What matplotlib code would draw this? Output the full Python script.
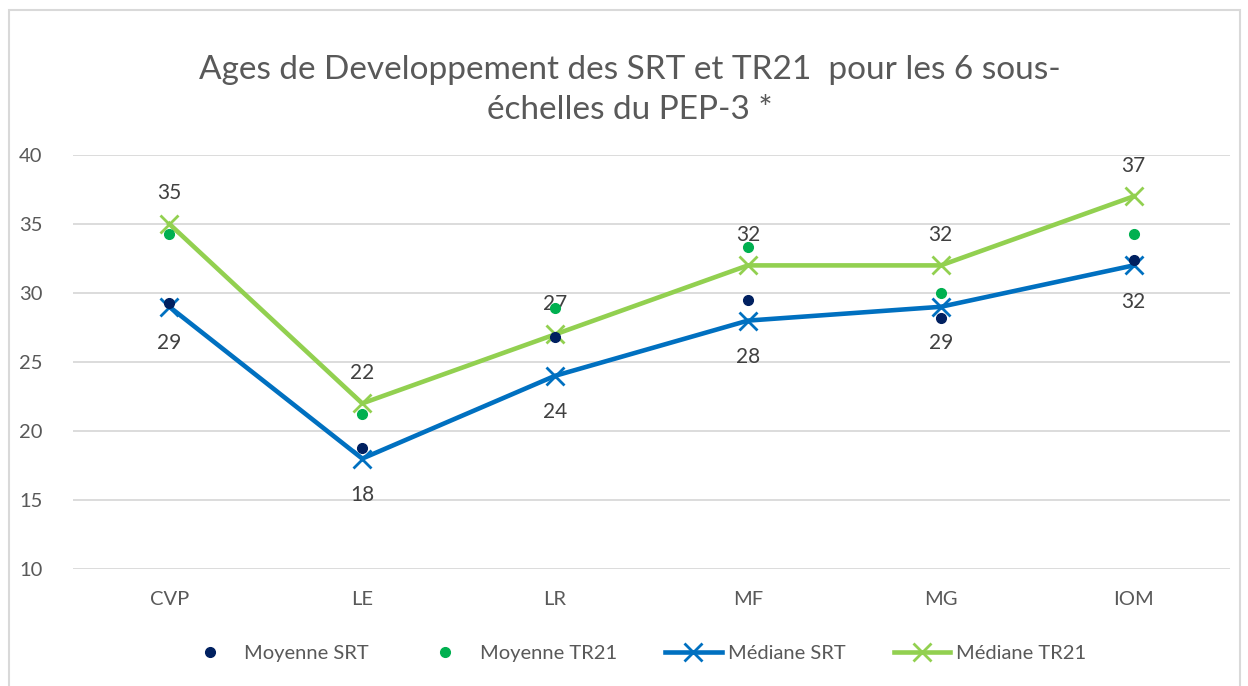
import matplotlib.pyplot as plt
from matplotlib.patches import Rectangle

plt.rcParams['font.family'] = ['Lato', 'DejaVu Sans']

# data
categories = ['CVP', 'LE', 'LR', 'MF', 'MG', 'IOM']
moyenne_srt = [29.3, 18.8, 26.8, 29.5, 28.2, 32.4]
moyenne_tr21 = [34.3, 21.2, 28.9, 33.3, 30.0, 34.3]
mediane_srt = [29, 18, 24, 28, 29, 32]
mediane_tr21 = [35, 22, 27, 32, 32, 37]

title = 'Ages de Developpement des SRT et TR21  pour les 6 sous-\néchelles du PEP-3 *'
text_col = '#595959'

fig = plt.figure(figsize=(12.48, 6.86), dpi=100)
ax = fig.add_axes([73 / 1248, 1 - 569 / 686, (1230 - 73) / 1248, (569 - 155) / 686])

# chart border
fig.patches.append(Rectangle((9 / 1248, -0.01), (1240 - 9) / 1248, 1 - 10 / 686 + 0.01,
                             transform=fig.transFigure, fill=False,
                             edgecolor='#D9D9D9', linewidth=1.5))

x = range(len(categories))

ax.plot(x, moyenne_srt, 'o', color='#002060', markersize=7, linestyle='none',
        label='Moyenne SRT', zorder=4)
ax.plot(x, moyenne_tr21, 'o', color='#00B050', markersize=7, linestyle='none',
        label='Moyenne TR21', zorder=4)
ax.plot(x, mediane_srt, color='#0070C0', linewidth=3.3, marker='x', markersize=13,
        markeredgewidth=2, label='Médiane SRT', zorder=3)
ax.plot(x, mediane_tr21, color='#92D050', linewidth=3.3, marker='x', markersize=13,
        markeredgewidth=2, label='Médiane TR21', zorder=3)

# data labels
for i, v in enumerate(mediane_tr21):
    ax.annotate(str(v), (i, v), xytext=(0, 22), textcoords='offset points',
                ha='center', va='center', fontsize=15, color='#404040')
for i, v in enumerate(mediane_srt):
    ax.annotate(str(v), (i, v), xytext=(0, -26), textcoords='offset points',
                ha='center', va='center', fontsize=15, color='#404040')

ax.set_xlim(-0.5, len(categories) - 0.5)
ax.set_ylim(10, 40)
ax.set_yticks(range(10, 41, 5))
ax.set_xticks(list(x))
ax.set_xticklabels(categories)
ax.grid(axis='y', color='#D9D9D9', linewidth=1.3)
ax.set_axisbelow(True)
for s in ax.spines.values():
    s.set_visible(False)
ax.tick_params(axis='both', length=0, labelsize=14.5, labelcolor=text_col)
ax.tick_params(axis='y', pad=22)
ax.tick_params(axis='x', pad=16)

fig.text(630 / 1248, 1 - 90 / 686, title, ha='center', va='center',
         fontsize=24, color=text_col, linespacing=1.45)

fig.legend(loc='center', bbox_to_anchor=(0.508, 1 - 653 / 686), ncol=4, frameon=False,
           fontsize=14.5, labelcolor=text_col, handlelength=2.8, columnspacing=2.4,
           handletextpad=0.3)

fig.savefig('out.png', dpi=100, facecolor='white')
